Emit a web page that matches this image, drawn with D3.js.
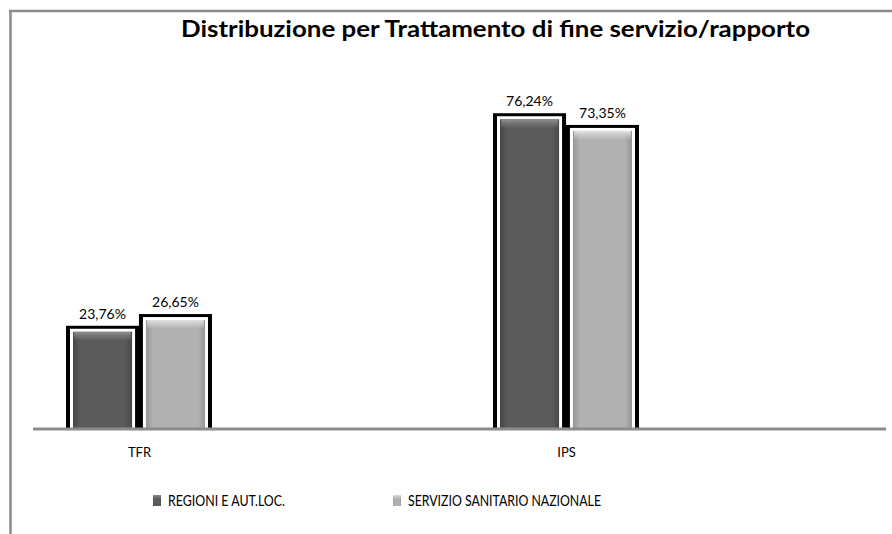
<!DOCTYPE html>
<html>
<head>
<meta charset="utf-8">
<script src="https://cdn.jsdelivr.net/npm/d3@7"></script>
<style>
  body { margin: 0; background: #fff; }
  svg { display: block; font-family: Lato, "Open Sans", sans-serif; }
</style>
</head>
<body>
<svg width="892" height="534"></svg>
<script>
var categories = ["TFR", "IPS"];
var seriesNames = ["REGIONI E AUT.LOC.", "SERVIZIO SANITARIO NAZIONALE"];
var regioniValues = [23.76, 76.24];
var ssnValues = [26.65, 73.35];
var titleText = "Distribuzione per Trattamento di fine servizio/rapporto";

var svg = d3.select("svg");

// colours for each series: base, edge, highlight
var palette = [
    { base: "#5b5b5b", edge: "#474747", light: "#8a8a8a" },
    { base: "#b1b1b1", edge: "#969696", light: "#dcdcdc" }
];

var xGroup = d3.scalePoint().domain(categories).range([139, 566]);
var xInner = d3.scaleBand().domain(seriesNames).range([-66, 66]).paddingInner(0.19);
var yScale = d3.scaleLinear().domain([0, 80]).range([428, 104]);

var fmt = function (v) { return d3.format(".2f")(v).replace(".", ",") + "%"; };

// gradients for bevel look
var defs = svg.append("defs");
palette.forEach(function (p, i) {
    var h = defs.append("linearGradient").attr("id", "hor" + i)
        .attr("x1", 0).attr("x2", 1).attr("y1", 0).attr("y2", 0);
    h.append("stop").attr("offset", "0").attr("stop-color", p.edge);
    h.append("stop").attr("offset", "0.12").attr("stop-color", p.base);
    h.append("stop").attr("offset", "0.88").attr("stop-color", p.base);
    h.append("stop").attr("offset", "1").attr("stop-color", p.edge);

    var v = defs.append("linearGradient").attr("id", "top" + i)
        .attr("x1", 0).attr("x2", 0).attr("y1", 0).attr("y2", 1);
    v.append("stop").attr("offset", "0").attr("stop-color", p.light).attr("stop-opacity", 1);
    v.append("stop").attr("offset", "1").attr("stop-color", p.light).attr("stop-opacity", 0);
});

// outer border of chart area
svg.append("line")
    .attr("x1", 9).attr("x2", 892).attr("y1", 11).attr("y2", 11)
    .attr("stroke", "#8a8a8a").attr("stroke-width", 2.5);
svg.append("line")
    .attr("x1", 10.5).attr("x2", 10.5).attr("y1", 10).attr("y2", 534)
    .attr("stroke", "#8a8a8a").attr("stroke-width", 2.5);

// title
svg.append("text")
    .attr("x", 181).attr("y", 37)
    .attr("textLength", 629).attr("lengthAdjust", "spacingAndGlyphs")
    .style("font-size", "22px").style("font-weight", "bold")
    .attr("fill", "#000")
    .text(titleText);

// bar data
var barData = [];
categories.forEach(function (c, ci) {
    barData.push({ cat: c, series: seriesNames[0], s: 0, value: regioniValues[ci] });
    barData.push({ cat: c, series: seriesNames[1], s: 1, value: ssnValues[ci] });
});

var bars = svg.append("g").selectAll("g").data(barData).enter().append("g");

bars.each(function (d) {
    var g = d3.select(this);
    var x = xGroup(d.cat) + xInner(d.series);
    var w = xInner.bandwidth();
    var y = yScale(d.value);
    var h = yScale(0) - y;

    // black frame
    g.append("rect")
        .attr("x", x - 7).attr("y", y - 6)
        .attr("width", w + 14).attr("height", h + 6)
        .attr("fill", "#000");
    // white inset
    g.append("rect")
        .attr("x", x - 3).attr("y", y - 3)
        .attr("width", w + 6).attr("height", h + 3)
        .attr("fill", "#fff");
    // bar body
    g.append("rect")
        .attr("x", x).attr("y", y)
        .attr("width", w).attr("height", h)
        .attr("fill", "url(#hor" + d.s + ")");
    // top bevel
    g.append("rect")
        .attr("x", x + 1).attr("y", y)
        .attr("width", w - 2).attr("height", 9)
        .attr("fill", "url(#top" + d.s + ")");
    g.append("line")
        .attr("x1", x + 2).attr("x2", x + w - 2)
        .attr("y1", y + 1).attr("y2", y + 1)
        .attr("stroke", palette[d.s].light).attr("stroke-width", 1.5);

    // value label
    g.append("text")
        .attr("x", x + w / 2).attr("y", y - 13)
        .attr("text-anchor", "middle")
        .style("font-size", "14px")
        .attr("fill", "#000")
        .text(fmt(d.value));
});

// baseline
svg.append("line")
    .attr("x1", 33).attr("x2", 886)
    .attr("y1", yScale(0) + 1).attr("y2", yScale(0) + 1)
    .attr("stroke", "#8c8c8c").attr("stroke-width", 3);

// category labels
var xAxis = d3.axisBottom(xGroup).tickSize(0).tickPadding(0);
var axisG = svg.append("g")
    .attr("transform", "translate(0," + (yScale(0) + 19) + ")")
    .call(xAxis);
axisG.select(".domain").remove();
axisG.selectAll("text")
    .attr("dy", "0.8em")
    .style("font-size", "13px")
    .style("font-family", "Lato, 'Open Sans', sans-serif")
    .attr("fill", "#000");

// legend
var legendX = [153, 393];
var legendText = [117, 193];
var legend = svg.append("g").selectAll("g").data(seriesNames).enter().append("g")
    .attr("transform", function (d, i) { return "translate(" + legendX[i] + ",495)"; });
legend.append("rect")
    .attr("width", 8).attr("height", 11)
    .attr("fill", function (d, i) { return "url(#hor" + i + ")"; });
legend.append("rect")
    .attr("width", 8).attr("height", 4)
    .attr("fill", function (d, i) { return "url(#top" + i + ")"; });
legend.append("text")
    .attr("x", 15).attr("y", 11)
    .attr("textLength", function (d, i) { return legendText[i]; })
    .attr("lengthAdjust", "spacingAndGlyphs")
    .style("font-size", "15px")
    .attr("fill", "#000")
    .text(function (d) { return d; });
</script>
</body>
</html>
